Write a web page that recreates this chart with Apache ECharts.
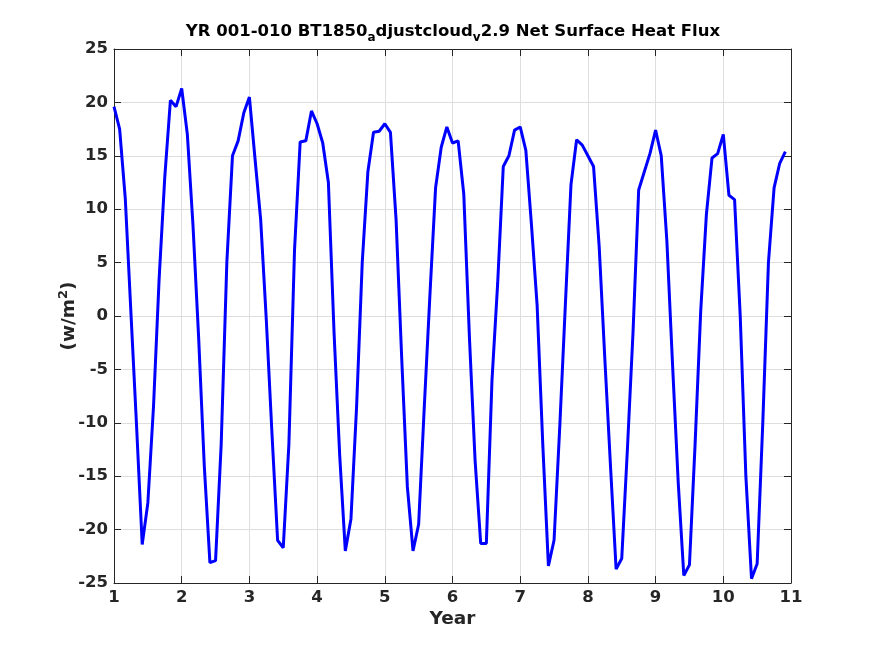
<!DOCTYPE html>
<html>
<head>
<meta charset="utf-8">
<script src="https://cdn.jsdelivr.net/npm/echarts@6/dist/echarts.min.js"></script>
<style>
  html, body { margin: 0; padding: 0; background: #fff; }
  #main { width: 875px; height: 656px; }
</style>
</head>
<body>
<div id="main"></div>
<script>
// monthly net surface heat flux (w/m^2), one array per model year
var yr01 = [19.6, 17.5, 11.0, 0.3, -10.3, -21.4, -17.5, -8.5, 3.5, 13.0, 20.2, 19.6];
var yr02 = [21.3, 17.0, 8.5, -2.0, -14.0, -23.1, -22.9, -12.0, 5.0, 15.0, 16.4, 19.0];
var yr03 = [20.5, 14.7, 9.0, -0.4, -11.0, -21.0, -21.7, -12.0, 6.2, 16.3, 16.4, 19.2];
var yr04 = [18.0, 16.2, 12.5, -1.5, -13.0, -22.0, -19.0, -8.5, 5.0, 13.5, 17.2, 17.3];
var yr05 = [18.0, 17.2, 9.0, -4.0, -16.0, -22.0, -19.5, -8.5, 2.0, 12.0, 15.8, 17.7];
var yr06 = [16.2, 16.4, 11.4, -2.0, -13.5, -21.3, -21.3, -6.0, 3.0, 14.0, 15.0, 17.4];
var yr07 = [17.7, 15.5, 8.5, 1.0, -12.0, -23.4, -21.0, -10.5, 1.0, 12.3, 16.5, 16.0];
var yr08 = [15.0, 14.0, 6.5, -4.0, -14.0, -23.7, -22.7, -12.5, -1.5, 11.8, 13.5, 15.2];
var yr09 = [17.4, 15.0, 7.0, -4.5, -15.5, -24.3, -23.3, -12.0, 0.5, 9.5, 14.8, 15.2];
var yr10 = [17.0, 11.3, 10.9, 0.0, -15.0, -24.6, -23.2, -10.0, 5.0, 12.0, 14.3, 15.4];

var flux = [].concat(yr01, yr02, yr03, yr04, yr05, yr06, yr07, yr08, yr09, yr10);

var xTicks = [1, 2, 3, 4, 5, 6, 7, 8, 9, 10, 11];
var yTicks = [-25, -20, -15, -10, -5, 0, 5, 10, 15, 20, 25];

// month i sits at year 1 + i/12
var points = flux.map(function (v, i) { return [1 + i / 12, v]; });

var myChart = echarts.init(document.getElementById('main'));

var axisColor = '#262626';
var font = 'DejaVu Sans';
var labelStyle = { color: axisColor, fontFamily: font, fontWeight: 'bold', fontSize: 16.5 };

var option = {
    animation: false,
    backgroundColor: '#ffffff',
    title: {
        text: 'YR 001-010 BT1850{sub|a}djustcloud{sub|v}2.9 Net Surface Heat Flux',
        left: 448,
        textAlign: 'center',
        top: 14,
        textStyle: {
            color: '#000',
            fontFamily: font,
            fontWeight: 'bold',
            fontSize: 16.5,
            rich: {
                sub: { fontFamily: font, fontWeight: 'bold', fontSize: 12, color: '#000', padding: [13, 0, 0, 0] }
            }
        }
    },
    grid: { left: 114, right: 84, top: 49, bottom: 73 },
    xAxis: [{
        type: 'value',
        min: xTicks[0], max: xTicks[xTicks.length - 1], interval: 1,
        name: 'Year',
        nameLocation: 'middle',
        nameGap: 27,
        nameMoveOverlap: false,
        nameTextStyle: { color: axisColor, fontFamily: font, fontWeight: 'bold', fontSize: 18.5 },
        axisLine: { onZero: false, lineStyle: { color: axisColor, width: 1 } },
        axisTick: { inside: true, length: 7, lineStyle: { color: axisColor } },
        axisLabel: Object.assign({ margin: 6 }, labelStyle),
        splitLine: { show: true, lineStyle: { color: '#dedede', width: 1 } }
    }, {
        type: 'value', position: 'top',
        min: xTicks[0], max: xTicks[xTicks.length - 1], interval: 1,
        axisLine: { onZero: false, lineStyle: { color: axisColor, width: 1 } },
        axisTick: { inside: true, length: 7, lineStyle: { color: axisColor } },
        axisLabel: { show: false },
        splitLine: { show: false }
    }],
    yAxis: [{
        type: 'value',
        min: yTicks[0], max: yTicks[yTicks.length - 1], interval: 5,
        name: '(w/m{sup|2})',
        nameLocation: 'middle',
        nameRotate: 90,
        nameGap: 32,
        nameMoveOverlap: false,
        nameTextStyle: {
            color: axisColor, fontFamily: font, fontWeight: 'bold', fontSize: 18.5,
            rich: { sup: { color: axisColor, fontFamily: font, fontWeight: 'bold', fontSize: 13, padding: [0, 0, 12, 0] } }
        },
        axisLine: { onZero: false, lineStyle: { color: axisColor, width: 1 } },
        axisTick: { inside: true, length: 7, lineStyle: { color: axisColor } },
        axisLabel: Object.assign({ margin: 6 }, labelStyle),
        splitLine: { show: true, lineStyle: { color: '#dedede', width: 1 } }
    }, {
        type: 'value', position: 'right',
        min: yTicks[0], max: yTicks[yTicks.length - 1], interval: 5,
        axisLine: { onZero: false, lineStyle: { color: axisColor, width: 1 } },
        axisTick: { inside: true, length: 7, lineStyle: { color: axisColor } },
        axisLabel: { show: false },
        splitLine: { show: false }
    }],
    series: [{
        type: 'line',
        data: points,
        showSymbol: false,
        lineStyle: { color: '#0000ff', width: 3 },
        itemStyle: { color: '#0000ff' }
    }]
};

myChart.setOption(option);
</script>
</body>
</html>
